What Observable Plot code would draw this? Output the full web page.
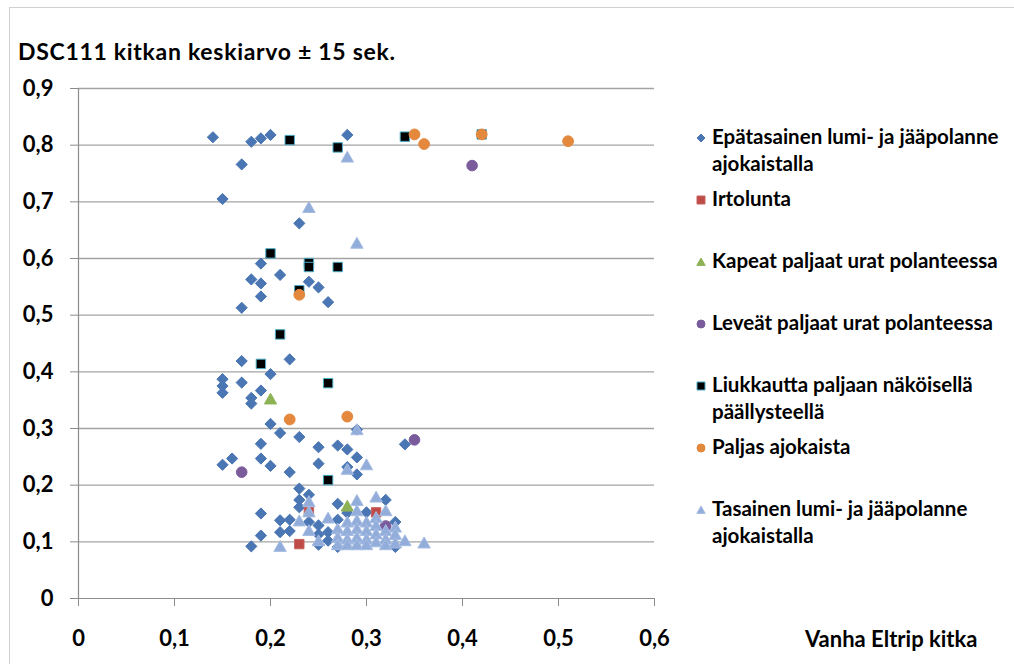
<!DOCTYPE html>
<html>
<head>
<meta charset="utf-8">
<script src="https://cdn.jsdelivr.net/npm/d3@7"></script>
<script src="https://cdn.jsdelivr.net/npm/@observablehq/plot@0.6"></script>
<style>
  html, body { margin: 0; padding: 0; background: #fff; overflow: hidden; }
  #wrap { position: relative; width: 1014px; height: 664px; overflow: hidden; font-family: Lato, "Open Sans", sans-serif; font-weight: bold; color: #000; }
  #frame { position: absolute; left: 9px; top: 7px; width: 1100px; height: 800px; border: 1px solid #d0d0d0; box-sizing: border-box; }
  #chart { position: absolute; left: 0; top: 0; }
  #title { position: absolute; left: 18px; top: 37px; font-size: 23px; letter-spacing: 0.7px; white-space: nowrap; }
  #xlabel { position: absolute; left: 805px; top: 625px; font-size: 22px; white-space: nowrap; }
  #legend { position: absolute; left: 695px; top: 123px; }
  .item { position: absolute; left: 0; height: 62px; display: flex; align-items: flex-start; font-size: 20.5px; line-height: 27px; white-space: nowrap; }
  .item svg { margin-top: 9px; margin-right: 5px; flex: none; }
</style>
</head>
<body>
<div id="wrap">
  <div id="frame"></div>
  <div id="chart"></div>
  <div id="title">DSC111 kitkan keskiarvo ± 15 sek.</div>
  <div id="xlabel">Vanha Eltrip kitka</div>
  <div id="legend"></div>
</div>
<script>
// ---- data ----
const seriesNames = [
  "Epätasainen lumi- ja jääpolanne\najokaistalla",
  "Irtolunta",
  "Kapeat paljaat urat polanteessa",
  "Leveät paljaat urat polanteessa",
  "Liukkautta paljaan näköisellä\npäällysteellä",
  "Paljas ajokaista",
  "Tasainen lumi- ja jääpolanne\najokaistalla"
];
const epatasainen = [[0.14,0.814],[0.18,0.806],[0.19,0.812],[0.20,0.818],[0.28,0.818],[0.17,0.766],[0.15,0.705],[0.23,0.662],[0.19,0.591],[0.18,0.563],[0.21,0.571],[0.19,0.556],[0.24,0.559],[0.25,0.549],[0.19,0.533],[0.26,0.523],[0.17,0.513],[0.17,0.419],[0.22,0.422],[0.20,0.396],[0.15,0.387],[0.15,0.375],[0.15,0.363],[0.17,0.381],[0.19,0.367],[0.18,0.354],[0.18,0.344],[0.20,0.308],[0.29,0.298],[0.21,0.292],[0.23,0.285],[0.19,0.273],[0.25,0.267],[0.27,0.270],[0.28,0.263],[0.29,0.249],[0.15,0.236],[0.16,0.247],[0.19,0.247],[0.20,0.234],[0.22,0.223],[0.25,0.238],[0.28,0.232],[0.29,0.219],[0.34,0.272],[0.23,0.194],[0.24,0.183],[0.23,0.174],[0.23,0.161],[0.27,0.167],[0.32,0.174],[0.30,0.152],[0.28,0.151],[0.19,0.150],[0.21,0.138],[0.22,0.139],[0.24,0.135],[0.25,0.129],[0.27,0.139],[0.21,0.117],[0.22,0.119],[0.19,0.111],[0.18,0.092],[0.25,0.113],[0.25,0.095],[0.26,0.117],[0.26,0.102],[0.27,0.091],[0.33,0.135],[0.33,0.091]];
const irtolunta = [[0.24,0.153],[0.31,0.152],[0.23,0.096]];
const kapeat = [[0.20,0.352],[0.28,0.163]];
const leveat = [[0.41,0.764],[0.35,0.280],[0.17,0.223],[0.32,0.128]];
const liukkautta = [[0.22,0.809],[0.27,0.796],[0.34,0.815],[0.42,0.819],[0.20,0.609],[0.24,0.592],[0.24,0.585],[0.27,0.585],[0.23,0.544],[0.21,0.466],[0.19,0.414],[0.26,0.380],[0.26,0.209]];
const paljas = [[0.35,0.819],[0.36,0.802],[0.42,0.819],[0.51,0.807],[0.23,0.536],[0.22,0.316],[0.28,0.321]];
const tasainen = [[0.28,0.779],[0.24,0.690],[0.29,0.627],[0.29,0.298],[0.30,0.236],[0.28,0.228],[0.24,0.171],[0.24,0.153],[0.29,0.173],[0.31,0.179],[0.32,0.155],[0.23,0.137],[0.24,0.120],[0.26,0.142],[0.21,0.092],[0.25,0.102],[0.27,0.123],[0.27,0.108],[0.27,0.095],[0.28,0.135],[0.28,0.120],[0.28,0.105],[0.28,0.095],[0.29,0.155],[0.29,0.138],[0.29,0.123],[0.29,0.108],[0.29,0.095],[0.30,0.135],[0.30,0.120],[0.30,0.105],[0.30,0.095],[0.31,0.143],[0.31,0.129],[0.31,0.114],[0.31,0.100],[0.32,0.120],[0.32,0.105],[0.32,0.095],[0.33,0.126],[0.33,0.113],[0.33,0.098],[0.34,0.102],[0.36,0.098]];
const xTicks = [0, 0.1, 0.2, 0.3, 0.4, 0.5, 0.6];
const yTicks = [0, 0.1, 0.2, 0.3, 0.4, 0.5, 0.6, 0.7, 0.8, 0.9];

// ---- styles ----
const symDiamond = {draw(c, s) { const r = Math.sqrt(s / Math.PI); c.moveTo(0, -r); c.lineTo(r, 0); c.lineTo(0, r); c.lineTo(-r, 0); c.closePath(); }};
const symSquare = {draw(c, s) { const r = Math.sqrt(s / Math.PI); c.rect(-r, -r, 2 * r, 2 * r); }};
const symTriangle = {draw(c, s) { const r = Math.sqrt(s / Math.PI); c.moveTo(0, -r); c.lineTo(r * 1.05, r * 0.85); c.lineTo(-r * 1.05, r * 0.85); c.closePath(); }};
const symCircle = {draw(c, s) { const r = Math.sqrt(s / Math.PI); c.moveTo(r, 0); c.arc(0, 0, r, 0, 2 * Math.PI); }};

const styles = [
  {data: epatasainen, symbol: symDiamond, r: 5.6, fill: "#4A76B4", stroke: "#4A76B4"},
  {data: irtolunta, symbol: symSquare, r: 4.7, fill: "#BE4B48", stroke: "#C9625F"},
  {data: kapeat, symbol: symTriangle, r: 5.8, fill: "#8DB255", stroke: "#8DB255"},
  {data: leveat, symbol: symCircle, r: 5.3, fill: "#7A5C9C", stroke: "#7A5C9C"},
  {data: liukkautta, symbol: symSquare, r: 4.7, fill: "#000", stroke: "#4BACC6"},
  {data: paljas, symbol: symCircle, r: 5.4, fill: "#E4883E", stroke: "#E4883E"},
  {data: tasainen, symbol: symTriangle, r: 5.9, fill: "#93ADDA", stroke: "#A5BCE3"}
];

const fmt = d => d === 0 ? "0" : d.toFixed(1).replace(".", ",");

const marks = [
  Plot.gridY(yTicks.slice(1), {stroke: "#a3a3a3", strokeOpacity: 1, strokeWidth: 1.4}),
  Plot.axisY(yTicks, {tickSize: 8, tickPadding: 17, tickFormat: fmt, stroke: "#8c8c8c", fill: "#000", label: null, fontSize: 22, fontWeight: "bold"}),
  Plot.axisX(xTicks, {tickSize: 8, tickPadding: 24, tickFormat: fmt, stroke: "#8c8c8c", fill: "#000", label: null, fontSize: 22, fontWeight: "bold"}),
  Plot.ruleX([0], {stroke: "#8c8c8c", strokeWidth: 1.2}),
  Plot.ruleY([0], {stroke: "#8c8c8c", strokeWidth: 1.2})
];
for (const s of styles) {
  marks.push(Plot.dot(s.data, {x: d => d[0], y: d => d[1], symbol: s.symbol, r: s.r, fill: s.fill, stroke: s.stroke, strokeWidth: 1}));
}

const chart = Plot.plot({
  width: 1014,
  height: 664,
  marginLeft: 78,
  marginRight: 360,
  marginTop: 88,
  marginBottom: 66,
  x: {domain: [0, 0.6]},
  y: {domain: [0, 0.9]},
  style: {fontFamily: "Lato, 'Open Sans', sans-serif", fontSize: "22px", fontWeight: "bold", background: "transparent", color: "#000"},
  marks
});
document.getElementById("chart").appendChild(chart);

// ---- legend (HTML) ----
const legend = document.getElementById("legend");
styles.forEach((s, i) => {
  const item = document.createElement("div");
  item.className = "item";
  item.style.top = (i * 62) + "px";
  const svg = d3.create("svg").attr("width", 12).attr("height", 12);
  const p = d3.path();
  s.symbol.draw(p, Math.PI * 4 * 4);
  svg.append("path").attr("transform", "translate(6,6)").attr("d", p.toString())
    .attr("fill", s.fill).attr("stroke", s.stroke).attr("stroke-width", 1);
  item.appendChild(svg.node());
  const t = document.createElement("div");
  t.innerHTML = seriesNames[i].replace("\n", "<br>");
  item.appendChild(t);
  legend.appendChild(item);
});
</script>
</body>
</html>
